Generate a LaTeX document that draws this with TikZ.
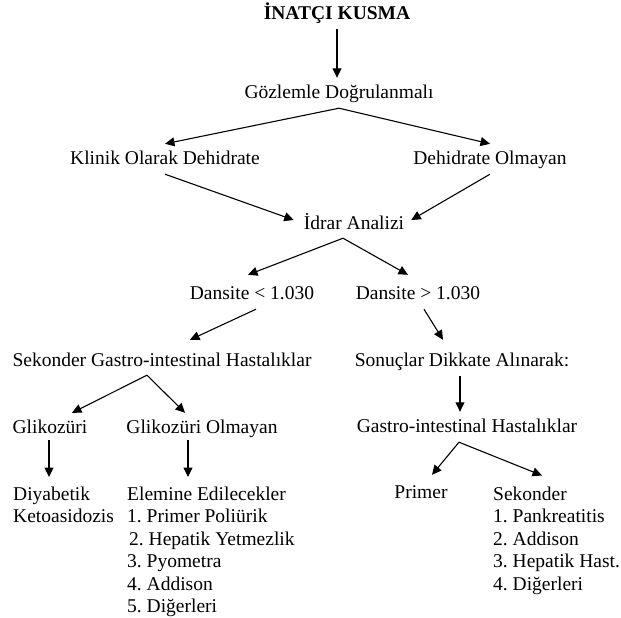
\documentclass[tikz,border=0pt]{standalone}
\usepackage{fontspec}
\setmainfont{Liberation Serif}
\frenchspacing
\usetikzlibrary{arrows.meta}
\begin{document}
\begin{tikzpicture}[x=1pt, y=-1pt, >={Triangle[length=9.5pt,width=9pt]},
    every node/.style={font=\fontsize{19.5}{22.5}\selectfont},
    lbl/.style={inner xsep=0pt, inner ysep=6.5pt, text height=14pt, text depth=3pt},
    lst/.style={inner sep=0pt, align=left, anchor=north west},
    arr/.style={->, line width=1.1pt}]
  \useasboundingbox (0,0) rectangle (621,618);
  \node[lbl, font=\fontsize{19.5}{22.5}\selectfont\bfseries] (inatci) at (337,14) {İNATÇI KUSMA};
  \node[lbl] (gozlem) at (339,93) {Gözlemle Doğrulanmalı};
  \node[lbl] (klinik) at (165,159) {Klinik Olarak Dehidrate};
  \node[lbl] (dolm) at (490,159) {Dehidrate Olmayan};
  \node[lbl] (idrar) at (354,224) {İdrar Analizi};
  \node[lbl] (dkucuk) at (252,294) {Dansite < 1.030};
  \node[lbl] (dbuyuk) at (418,294) {Dansite > 1.030};
  \node[lbl] (sekgi) at (162,361) {Sekonder Gastro-intestinal Hastalıklar};
  \node[lbl] (sonuc) at (462,361) {Sonuçlar Dikkate Alınarak:};
  \node[lbl] (gih) at (467,427) {Gastro-intestinal Hastalıklar};
  \node[lbl] (gliko) at (50,428) {Glikozüri};
  \node[lbl] (glikoolm) at (202,428) {Glikozüri Olmayan};
  \node[lbl] (primer) at (421,493) {Primer};
  \node[lst] (diyab) at (13,486.5) {Diyabetik\\Ketoasidozis};
  \node[lst] (elem) at (127,486.5) {Elemine Edilecekler\\1. Primer Poliürik\\\kern2pt 2. Hepatik Yetmezlik\\3. Pyometra\\4. Addison\\5. Diğerleri};
  \node[lst] (sek) at (493,486.5) {Sekonder\\1. Pankreatitis\\2. Addison\\3. Hepatik Hast.\\4. Diğerleri};

  \draw[arr] (inatci.south) -- (inatci.south |- gozlem.north);
  \draw[arr] (gozlem.south) -- (klinik.north);
  \draw[arr] (gozlem.south) -- (dolm.north);
  \draw[arr] (klinik.south) -- ([xshift=-10pt,yshift=4pt]idrar.west);
  \draw[arr] (dolm.south) -- ([xshift=7pt,yshift=4pt]idrar.east);
  \draw[arr] ([xshift=-11pt,yshift=1pt]idrar.south) -- ([xshift=-4pt,yshift=4pt]dkucuk.north);
  \draw[arr] ([xshift=-11pt,yshift=1pt]idrar.south) -- ([xshift=-10pt,yshift=4pt]dbuyuk.north);
  \draw[arr] ([xshift=4pt]dkucuk.south) -- ([xshift=28pt,yshift=6pt]sekgi.north);
  \draw[arr] ([xshift=6pt]dbuyuk.south) -- ([xshift=-19pt,yshift=6pt]sonuc.north);
  \draw[arr] ([xshift=-2pt]sonuc.south) -- ([xshift=-2pt]sonuc.south |- gih.north);
  \draw[arr] ([xshift=-8pt]gih.south) -- ([xshift=11pt,yshift=3pt]primer.north);
  \draw[arr] ([xshift=-8pt]gih.south) -- ([xshift=49pt,yshift=11pt]sek.north west);
  \draw[arr] ([xshift=-15pt,yshift=1pt]sekgi.south) -- ([xshift=22pt]gliko.north);
  \draw[arr] ([xshift=-15pt,yshift=1pt]sekgi.south) -- ([xshift=-17pt]glikoolm.north);
  \draw[arr] ([xshift=-1pt,yshift=3pt]gliko.south) -- ([xshift=-1pt,yshift=9.5pt]gliko.south |- diyab.north);
  \draw[arr] ([xshift=-14pt,yshift=3pt]glikoolm.south) -- ([xshift=-14pt,yshift=9.5pt]glikoolm.south |- elem.north);
\end{tikzpicture}
\end{document}
